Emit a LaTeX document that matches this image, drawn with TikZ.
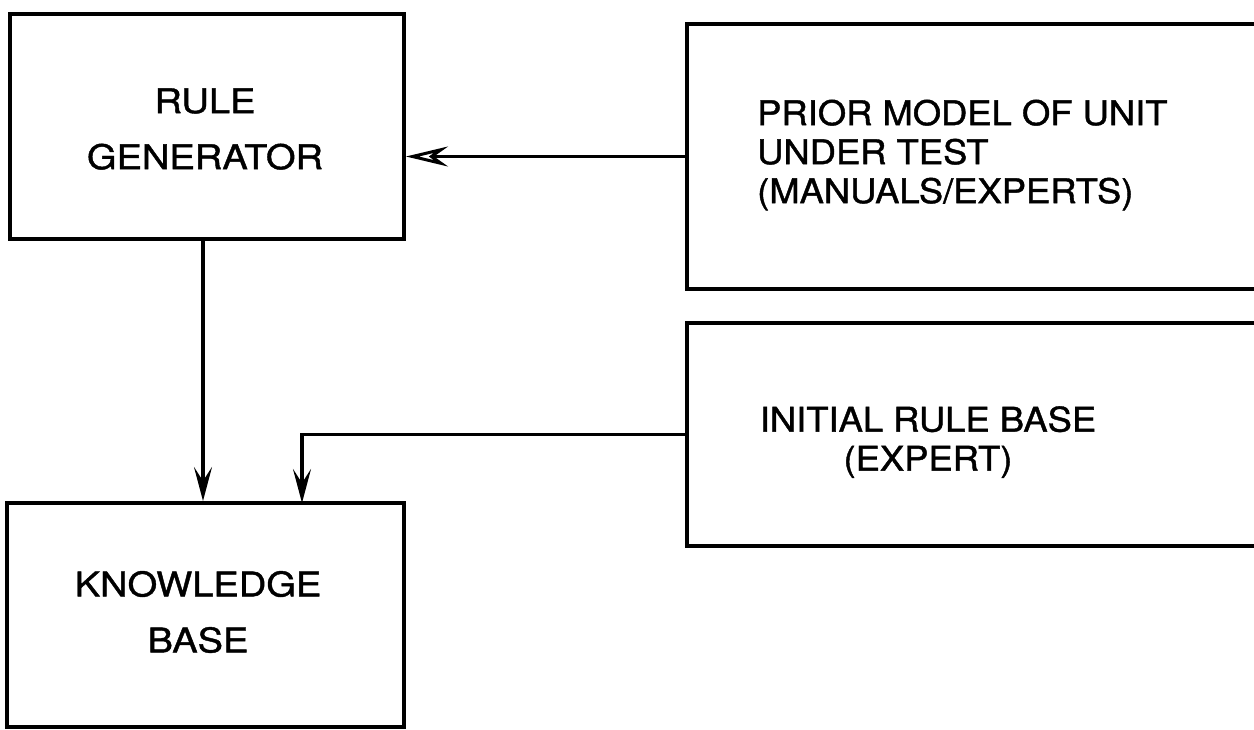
\documentclass[tikz,border=0pt]{standalone}
\usepackage{fontspec}
\setmainfont{TeX Gyre Heros}
\newfontfamily\leftfont{TeX Gyre Heros}[FakeStretch=1.12,FakeBold=1.2]
\newfontfamily\rightfont{TeX Gyre Heros}[FakeStretch=1.07,FakeBold=1.2]
\usetikzlibrary{arrows.meta,calc}
\begin{document}
\begin{tikzpicture}[x=1pt,y=-1pt,
  box/.style={draw=black,line width=4pt,inner sep=0pt,rectangle},
  lefttext/.style={font=\leftfont\fontsize{34}{56}\selectfont,align=center,inner sep=0pt},
  righttext/.style={font=\rightfont\fontsize{34}{39}\selectfont,inner sep=0pt},
  conn/.style={line width=3.5pt,draw=black},
  downtip/.style={-{Stealth[length=34pt,width=18pt,inset=14pt]}},
  lefttip/.style={-{Stealth[open,length=42pt,width=20pt,inset=14pt,line width=3pt,fill=white]}}
]
\useasboundingbox (0,0) rectangle (1254,729);
\fill[white] (0,0) rectangle (1254,729);

% boxes
\node[box,minimum width=394pt,minimum height=225pt] (rg) at (207,126.5) {};
\node[box,minimum width=397pt,minimum height=224pt] (kb) at (205.5,615) {};
\node[box,minimum width=583pt,minimum height=265pt] (prior) at (978.5,156.5) {};
\node[box,minimum width=583pt,minimum height=223pt] (irb) at (978.5,434.5) {};

% texts
\node[lefttext] (rgtxt) at (205,129) {RULE\\GENERATOR};
\node[lefttext] (kbtxt) at (198,612) {KNOWLEDGE\\BASE};
\node[righttext,anchor=west,align=left] (priortxt) at (757,155) {PRIOR MODEL OF UNIT\\UNDER TEST\\(MANUALS/EXPERTS)};
\node[righttext,align=center] (irbtxt) at (928,442) {INITIAL RULE BASE\\(EXPERT)};

% connectors
\coordinate (kbin) at (302,503);
\draw[conn,lefttip] (prior.west) -- (rg.east |- prior.west);
\draw[conn,downtip] (rg.south -| 203,0) -- (kb.north -| 203,0);
\draw[conn,downtip] (irb.west) -| (kbin);
\end{tikzpicture}
\end{document}
